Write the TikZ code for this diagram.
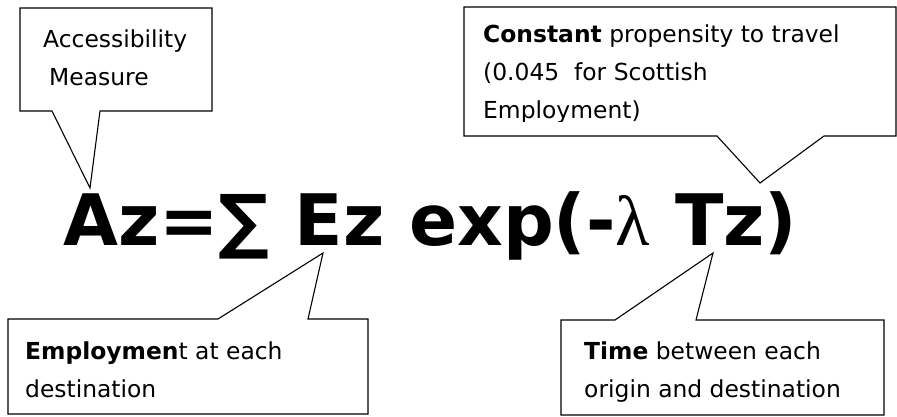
\documentclass[tikz,border=0pt]{standalone}
\usepackage{fontspec}
\setmainfont{DejaVu Sans}
\newfontfamily\lamfont{Liberation Serif}
\usetikzlibrary{calc}
\begin{document}
\begin{tikzpicture}[x=1pt,y=-1pt,
  note/.style={anchor=base west, inner sep=0pt, align=left, font=\fontsize{23.4}{38}\selectfont},
  boxarea/.style={anchor=north west, inner sep=0pt, outer sep=0pt},
  outline/.style={draw=black, line width=1.1pt, fill=white, line join=miter}]
\useasboundingbox (0,0) rectangle (897,417);
\fill[white] (0,0) rectangle (897,417);

% formula
\node[anchor=base west, inner sep=0pt, font=\fontsize{71}{80}\selectfont\bfseries] (formula) at (63,245)
  {Az=∑ Ez exp(-{\lamfont\mdseries λ} Tz)};

% pointer tips
\coordinate (tipA) at (90,188);
\coordinate (tipC) at (760,183);
\coordinate (tipE) at (323,253);
\coordinate (tipT) at (713,253);

% Accessibility box
\node[boxarea, minimum width=192pt, minimum height=103pt] (acc) at (20,8) {};
\coordinate (accB1) at ($(acc.south west)+(32,0)$);
\coordinate (accB2) at ($(acc.south west)+(80,0)$);
\draw[outline] (acc.north west) -- (acc.north east) -- (acc.south east) -- (accB2) -- (tipA) -- (accB1) -- (acc.south west) -- cycle;
\node[note] (accT) at (43,86) {Accessibility\\\hspace{6pt}Measure};

% Constant box
\node[boxarea, minimum width=432pt, minimum height=129pt] (con) at (464,7) {};
\coordinate (conB1) at ($(con.south west)+(253,0)$);
\coordinate (conB2) at ($(con.south west)+(360,0)$);
\draw[outline] (con.north west) -- (con.north east) -- (con.south east) -- (conB2) -- (tipC) -- (conB1) -- (con.south west) -- cycle;
\begin{scope}
\clip (464,7) rectangle (896,122);
\node[note] (conT) at (483,119) {\textbf{Constant} propensity to travel\\(0.045\ \ for Scottish\\Employment)};
\end{scope}

% Employment box
\node[boxarea, minimum width=360pt, minimum height=95pt] (emp) at (8,319) {};
\coordinate (empB1) at ($(emp.north west)+(210,0)$);
\coordinate (empB2) at ($(emp.north west)+(300,0)$);
\draw[outline] (emp.north west) -- (empB1) -- (tipE) -- (empB2) -- (emp.north east) -- (emp.south east) -- (emp.south west) -- cycle;
\node[note] (empT) at (25,397) {\textbf{Employmen}t at each\\destination};

% Time box
\node[boxarea, minimum width=323pt, minimum height=95pt] (tim) at (561,320) {};
\coordinate (timB1) at ($(tim.north west)+(54,0)$);
\coordinate (timB2) at ($(tim.north west)+(135,0)$);
\draw[outline] (tim.north west) -- (timB1) -- (tipT) -- (timB2) -- (tim.north east) -- (tim.south east) -- (tim.south west) -- cycle;
\node[note] (timT) at (584,397) {\textbf{Time} between each\\origin and destination};
\end{tikzpicture}
\end{document}
